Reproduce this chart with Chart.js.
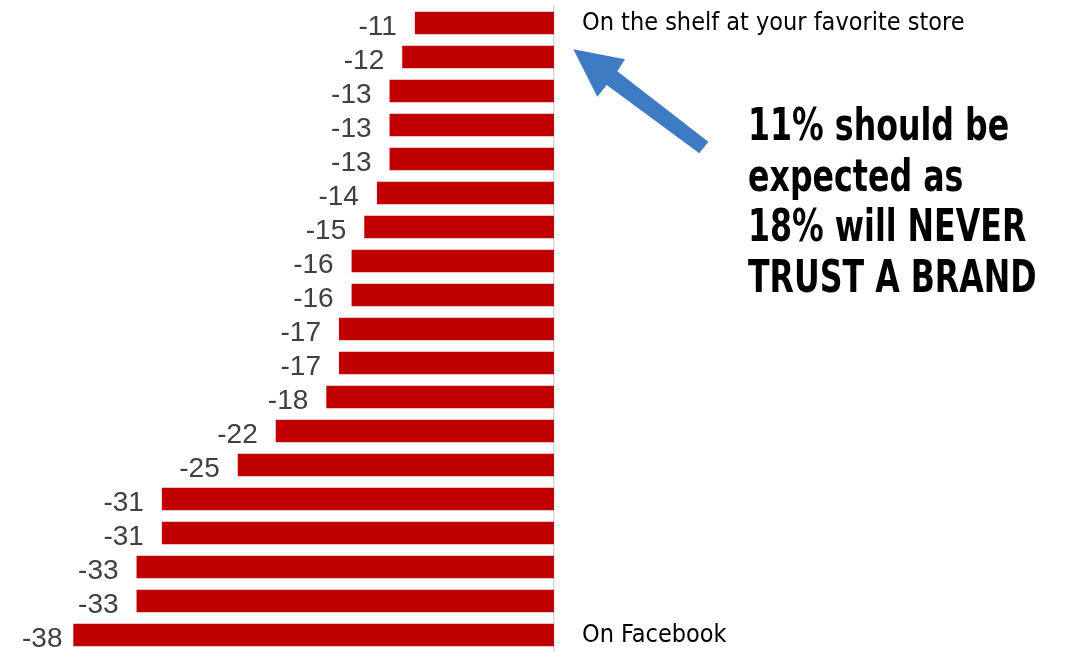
<!DOCTYPE html>
<html>
<head>
<meta charset="utf-8">
<script src="https://cdn.jsdelivr.net/npm/chart.js@4/dist/chart.umd.min.js"></script>
<style>
    html, body { margin: 0; padding: 0; background: #fff; }
    #chart { display: block; }
</style>
</head>
<body>
<canvas id="chart" width="1066" height="652"></canvas>
<script>
// Places where a brand is trusted least, top to bottom
const categories = [
    'On the shelf at your favorite store',
    '', '', '', '', '', '', '', '', '', '', '', '', '', '', '', '', '',
    'On Facebook'
];
const values = [-11, -12, -13, -13, -13, -14, -15, -16, -16, -17, -17, -18, -22, -25, -31, -31, -33, -33, -38];
const axisMin = -40;
const axisMax = 0;

const calloutLines = ['11% should be', 'expected as', '18% will NEVER', 'TRUST A BRAND'];

const narrow = "'DejaVu Sans Condensed', 'Liberation Sans Narrow', sans-serif";

// Value labels sit just past the end of each bar
const valueLabels = {
    id: 'valueLabels',
    afterDatasetsDraw(chart) {
        const ctx = chart.ctx;
        const meta = chart.getDatasetMeta(0);
        ctx.save();
        ctx.font = "28px 'Liberation Sans', Arial, sans-serif";
        ctx.fillStyle = '#404040';
        ctx.textAlign = 'right';
        ctx.textBaseline = 'alphabetic';
        meta.data.forEach((bar, i) => {
            const text = String(values[i]);
            const w = ctx.measureText(text).width;
            // keep the label inside the canvas when the bar is long
            const right = Math.max(bar.x - 18, 22 + w);
            ctx.fillText(text, right, bar.y + 11.5);
        });
        ctx.restore();
    }
};

// Arrow pointing at the top bar plus the callout text
const callout = {
    id: 'callout',
    afterDraw(chart) {
        const ctx = chart.ctx;
        ctx.save();
        ctx.fillStyle = '#3E7BC3';
        ctx.beginPath();
        ctx.moveTo(573.3, 49.3);
        ctx.lineTo(625, 59.3);
        ctx.lineTo(617.3, 71.3);
        ctx.lineTo(708.3, 141.7);
        ctx.lineTo(699.3, 153.3);
        ctx.lineTo(606.7, 85);
        ctx.lineTo(597.3, 96.7);
        ctx.closePath();
        ctx.fill();

        // condensed bold text, squeezed horizontally
        ctx.fillStyle = '#000';
        ctx.font = 'bold 44px ' + narrow;
        ctx.textAlign = 'left';
        ctx.textBaseline = 'alphabetic';
        ctx.translate(748, 0);
        ctx.scale(0.8, 1);
        calloutLines.forEach((line, i) => {
            ctx.fillText(line, 0, 140 + i * 50.7);
        });
        ctx.restore();
    }
};

const chart = new Chart(document.getElementById('chart'), {
    type: 'bar',
    data: {
        labels: categories,
        datasets: [{
            data: values,
            backgroundColor: '#C00000',
            borderWidth: 0,
            categoryPercentage: 1,
            barPercentage: 0.66
        }]
    },
    options: {
        indexAxis: 'y',
        responsive: false,
        animation: false,
        layout: {
            padding: { top: 6, bottom: 0, left: 48, right: 0 }
        },
        plugins: {
            legend: { display: false },
            tooltip: { enabled: false }
        },
        scales: {
            x: {
                display: false,
                min: axisMin,
                max: axisMax
            },
            y: {
                position: 'right',
                grid: { display: false, drawTicks: false },
                border: { display: true, color: '#D9D9D9', width: 1.5 },
                ticks: {
                    autoSkip: false,
                    padding: 28,
                    color: '#000',
                    font: { family: narrow, size: 25 }
                },
                afterFit(axis) {
                    axis.width = 512;
                    axis.paddingTop = 0;
                    axis.paddingBottom = 0;
                }
            }
        }
    },
    plugins: [valueLabels, callout]
});
</script>
</body>
</html>
